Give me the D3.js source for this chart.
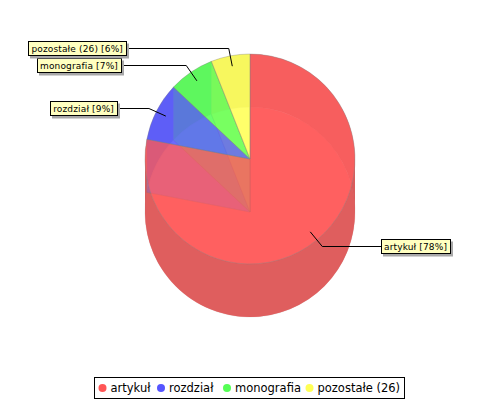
<!DOCTYPE html>
<html>
<head>
<meta charset="utf-8">
<script src="https://cdn.jsdelivr.net/npm/d3@7"></script>
<style>
  html, body { margin: 0; background: #fff; }
  text { font-family: "DejaVu Sans", sans-serif; fill: #000; }
</style>
</head>
<body>
<svg id="chart" width="500" height="400"></svg>
<script>
const categories = ['artykuł', 'rozdział', 'monografia', 'pozostałe (26)'];
const shares = [78, 9, 7, 6];
const topColors = ['#ff5555', '#5555ff', '#55ff55', '#ffff55'];
const wallColors = ['#d75555', '#5555d7', '#55d755', '#d7d755'];
// right/left edge of each callout box, where the leader line meets it
const labelEdges = [381, 117, 121, 126];

const svg = d3.select('svg#chart');

const cx = 250, cyTop = 159, depth = 53, radius = 105;
const topAlpha = 0.75, wallAlpha = 0.8;

const pie = d3.pie().sort(null).value(d => d);
const arcs = pie(shares);
const arc = d3.arc().innerRadius(0).outerRadius(radius);

// angle (0 = north, clockwise) and radius to page position
const polar = (a, r, cy) => [cx + Math.sin(a) * r, cy - Math.cos(a) * r];

// rear walls never show outside the top face
svg.append('clipPath')
    .attr('id', 'topDisc')
    .append('circle')
    .attr('cx', cx)
    .attr('cy', cyTop)
    .attr('r', radius);

const pieG = svg.append('g');

// bottom face
pieG.selectAll('path.bottom')
    .data(arcs)
    .join('path')
    .attr('class', 'bottom')
    .attr('transform', `translate(${cx},${cyTop + depth})`)
    .attr('d', arc)
    .attr('fill', (d, i) => topColors[i])
    .attr('fill-opacity', (d, i) => i ? topAlpha * 0.7 : topAlpha)
    .attr('stroke', '#808080')
    .attr('stroke-opacity', 0.3)
    .attr('stroke-width', 0.5);

// outer wall, cut at the left and right extremes so it stays a clean band
function outerWall(a0, a1) {
    const p = d3.path();
    const start = a0 - Math.PI / 2, end = a1 - Math.PI / 2;
    p.arc(cx, cyTop, radius, start, end);
    p.arc(cx, cyTop + depth, radius, end, start, true);
    p.closePath();
    return p.toString();
}

arcs.forEach((d, i) => {
    const cuts = [d.startAngle];
    [Math.PI / 2, Math.PI * 1.5].forEach(c => {
        if (c > d.startAngle && c < d.endAngle) cuts.push(c);
    });
    cuts.push(d.endAngle);
    d3.pairs(cuts).forEach(([a0, a1]) => {
        pieG.append('path')
            .attr('d', outerWall(a0, a1))
            .attr('fill', wallColors[i])
            .attr('fill-opacity', wallAlpha)
            .attr('clip-path', i ? 'url(#topDisc)' : null);
    });
    // radial walls at both ends of the slice
    [d.startAngle, d.endAngle].forEach(a => {
        const rim = polar(a, radius, cyTop);
        const p = d3.path();
        p.moveTo(cx, cyTop);
        p.lineTo(rim[0], rim[1]);
        p.lineTo(rim[0], rim[1] + depth);
        p.lineTo(cx, cyTop + depth);
        p.closePath();
        pieG.append('path')
            .attr('d', p.toString())
            .attr('fill', topColors[i])
            .attr('fill-opacity', wallAlpha * 0.3)
            .attr('stroke', '#808080')
            .attr('stroke-opacity', 0.35)
            .attr('stroke-width', 0.5);
    });
});

// top face
pieG.selectAll('path.top')
    .data(arcs)
    .join('path')
    .attr('class', 'top')
    .attr('transform', `translate(${cx},${cyTop})`)
    .attr('d', arc)
    .attr('fill', (d, i) => topColors[i])
    .attr('fill-opacity', topAlpha)
    .attr('stroke', '#808080')
    .attr('stroke-opacity', 0.6)
    .attr('stroke-width', 0.6);

// callouts
const total = d3.sum(shares);
const labelG = svg.append('g');
arcs.forEach((d, i) => {
    const mid = (d.startAngle + d.endAngle) / 2;
    const inner = polar(mid, radius * 0.9, cyTop);
    const elbow = polar(mid, radius * 1.08, cyTop);
    const lineY = Math.round(elbow[1]) + 0.5;
    const edge = labelEdges[i];
    const onRight = Math.sin(mid) > 0;
    labelG.append('path')
        .attr('d', d3.line()([inner, [elbow[0], lineY], [edge, lineY]]))
        .attr('fill', 'none')
        .attr('stroke', '#000')
        .attr('stroke-width', 1);

    const box = labelG.append('g');
    const text = box.append('text')
        .attr('font-size', 9)
        .attr('letter-spacing', 0.15)
        .attr('y', lineY + 3.5)
        .attr('text-anchor', onRight ? 'start' : 'end')
        .attr('x', onRight ? edge + 3 : edge - 3)
        .text(`${categories[i]} [${Math.round(d.value / total * 100)}%]`);
    const bb = text.node().getBBox();
    const boxW = Math.round(bb.width + 6);
    const bx = onRight ? edge : edge - boxW;
    box.insert('rect', 'text')
        .attr('x', bx + 2).attr('y', lineY - 5)
        .attr('width', boxW + 1).attr('height', 15)
        .attr('fill', '#a8a8a8');
    box.insert('rect', 'text')
        .attr('x', bx + 0.5).attr('y', lineY - 7)
        .attr('width', boxW).attr('height', 14)
        .attr('fill', '#ffffc0')
        .attr('stroke', '#000')
        .attr('stroke-width', 1);
});

// legend
const legendX = [102.5, 161, 227, 309.5];
const legend = svg.append('g');
legend.append('rect')
    .attr('x', 94.5).attr('y', 377.5)
    .attr('width', 310).attr('height', 21)
    .attr('fill', '#fff')
    .attr('stroke', '#000');
categories.forEach((c, i) => {
    legend.append('circle')
        .attr('cx', legendX[i]).attr('cy', 388)
        .attr('r', 4)
        .attr('fill', topColors[i]);
    legend.append('text')
        .attr('x', legendX[i] + 8).attr('y', 392)
        .attr('font-size', 11.5)
        .text(c);
});
</script>
</body>
</html>
